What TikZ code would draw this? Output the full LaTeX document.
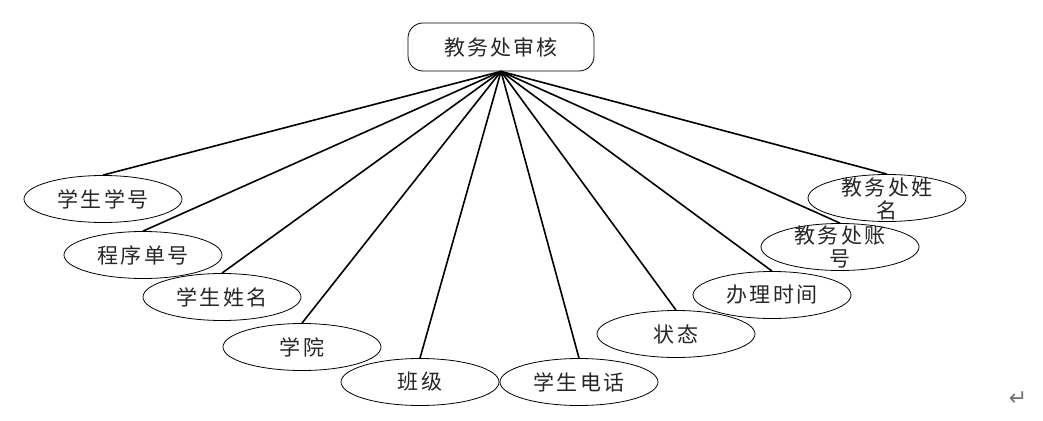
\documentclass[tikz,border=0pt]{standalone}
\usepackage{fontspec}
\newfontfamily\cjk[LetterSpace=10]{Noto Sans CJK SC}
\newfontfamily\symfont{DejaVu Sans}
\usetikzlibrary{shapes.geometric}
\begin{document}
\begin{tikzpicture}[x=1pt,y=-1pt,
  attr/.style={ellipse, draw=black, line width=0.8pt, minimum width=158pt, minimum height=47pt, inner sep=0pt,
    font=\cjk\fontsize{21}{24}\selectfont, text=black!85},
  lbl/.style={align=center, inner sep=0pt, font=\cjk\fontsize{21}{23}\selectfont, text=black!85},
  conn/.style={line width=1.6pt, black}]
\useasboundingbox (0,0) rectangle (1043,420);
\node[draw=black, line width=0.8pt, rounded corners=15pt, minimum width=186pt, minimum height=48pt,
  inner sep=0pt, font=\cjk\fontsize{21}{24}\selectfont, text=black!85] (root) at (501,47) {教务处审核};
\node[attr] (a1) at (103,199) {学生学号};
\node[attr] (a2) at (143,255) {程序单号};
\node[attr] (a3) at (222,297) {学生姓名};
\node[attr] (a4) at (302,347) {学院};
\node[attr] (a5) at (420,382) {班级};
\node[attr] (a6) at (579,382) {学生电话};
\node[attr] (a7) at (676,334) {状态};
\node[attr] (a8) at (772,295) {办理时间};
\node[attr] (a9) at (840,247) {};
\node[lbl] (t9) at (840,247) {教务处账\\号};
\node[attr] (a10) at (887,198) {};
\node[lbl] (t10) at (887,199) {教务处姓\\名};
\foreach \n in {a1,a2,a3,a4,a5,a6,a7,a8,a9,a10}
  \draw[conn] (root.south) -- (\n.north);
\node[font=\symfont\fontsize{22}{24}\selectfont, text=black!55, inner sep=0pt] (pm) at (1018,399) {↵};
\end{tikzpicture}
\end{document}
